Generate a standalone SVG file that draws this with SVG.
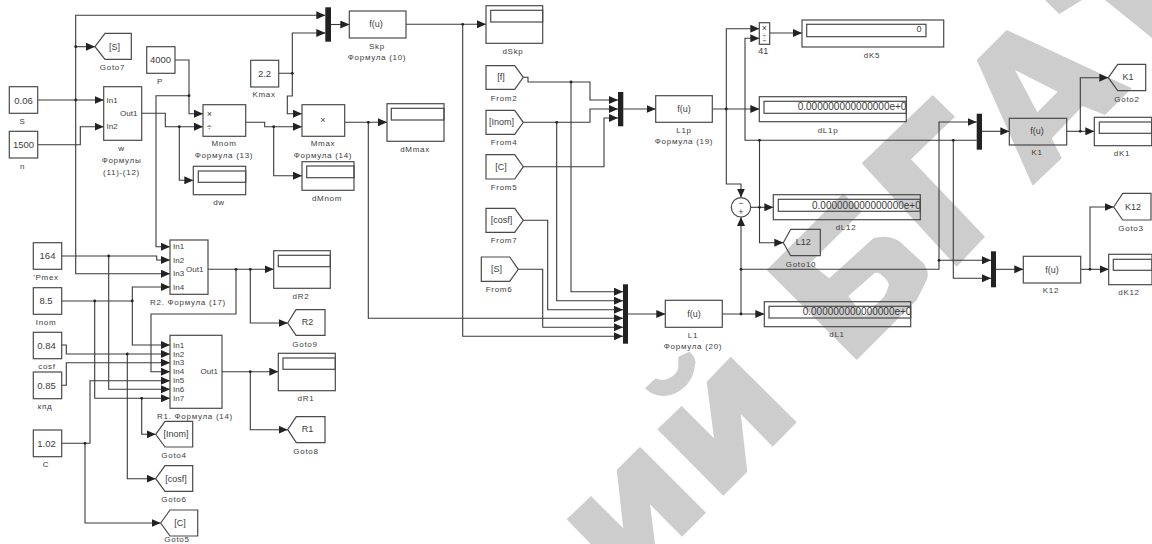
<svg xmlns="http://www.w3.org/2000/svg" width="1152" height="544" viewBox="0 0 1152 544">
<style>
.wm{fill:#cdcdcd;fill-rule:evenodd}
rect,polygon.b,circle.s{fill:none;stroke:#4a4a4a;stroke-width:1.2}
rect.m{fill:#222;stroke:none}
text{font-family:"Liberation Sans",Arial,sans-serif;fill:#3c3c3c;text-anchor:middle;dominant-baseline:central}
.l{font-size:8px;letter-spacing:.7px}
.v{font-size:9.5px}
.p{font-size:8px;text-anchor:start}
.f{font-size:9px}
.d{font-size:10px;text-anchor:start}
.c path{fill:none;stroke:#3a3a3a;stroke-width:1.1}
.c path.a{marker-end:url(#arr)}
.c circle{fill:#222}
</style>
<defs>
<marker id="arr" markerUnits="userSpaceOnUse" markerWidth="9" markerHeight="8" refX="9" refY="4" orient="auto"><path d="M0,0 L9,4 L0,8z" fill="#222"/></marker>
<clipPath id="c1"><rect x="764" y="101" width="142.3" height="13"/></clipPath>
<clipPath id="c2"><rect x="778" y="199" width="142.3" height="13"/></clipPath>
<clipPath id="c3"><rect x="769" y="306" width="141.7" height="13"/></clipPath>
</defs>
<rect width="1152" height="544" style="fill:#fff;stroke:none"/>
<g id="watermark">
<polygon class="wm" points="1045,0 1059.3,14 1082,0"/>
<polygon class="wm" points="1105,0 1152,38 1152,0"/>
<path class="wm" d="M976.7,60 L1006.7,30 L1131.7,88.3 L1105,115 L1082.7,106 L1051.7,138.3 L1061.7,158.3 L1032.7,185.7Z M1015,70 L1057.7,91.7 L1037.3,112.3Z"/>
<polygon class="wm" points="861.7,163.3 932.7,95 955,116.7 911,159.3 985,236.7 956.7,266.7"/>
<path class="wm" d="M766.7,270 L843.3,193.3 L861.7,211.7 L810,263.3 L829.3,278.3 L873.3,238.3 Q888,234 900,241.7 L923.3,263.3 Q930,272 926.7,280 L916.7,300 L856.7,360Z M848.3,296 L875,272.7 Q880,272 885,278.3 Q890,283 888.3,286.7 Q887,292 884,296.7 L864,316.7Z"/>
<path class="wm" d="M678.3,356.7 L689.3,351.7 Q697,358 695,365 Q694,376 686.7,385 Q676,396 663.3,396 Q653,396 645,388.3 L655.7,378.3 Q661,381 666.7,379.3 Q676,376 678.3,368.3Z"/>
<polygon class="wm" points="706.7,381.7 730.7,356.7 796.7,422.3 772.7,446.7 740.7,414 747.3,471.7 723.3,495.7 657.3,429.3 681.7,406 714,438.3"/>
<polygon class="wm" points="616.7,470 640,446.7 706,512.7 682,536.7 650,504.3 655,544 590.7,544 566.7,519.3 591,496 623.3,528.3"/>
</g>
<g id="connectors" class="c">
<path class="a" d="M38,100H103.7"/>
<path class="a" d="M75.7,100V15.3H325.3"/>
<path class="a" d="M75.7,46.7H95"/>
<path class="a" d="M75.7,100V273.7H170"/>
<path class="a" d="M38,144.7H80.3V126.7H103.7"/>
<path class="a" d="M141.7,113.3H165.3V126.7H203"/>
<path class="a" d="M179.3,126.7V180.3H193.3"/>
<path class="a" d="M175,60H189V113.7H203"/>
<path class="a" d="M189,95.7H156V246.7H170"/>
<path class="a" d="M245.7,122.3H264.7V126.7H302"/>
<path class="a" d="M273.7,126.7V175.7H302"/>
<path class="a" d="M278.7,73.3H292.3V33H325.3"/>
<path class="a" d="M292.3,73.3V96H287.3V113.7H302"/>
<path class="a" d="M331,24.5H349.3"/>
<path class="a" d="M406,24.3H486"/>
<path class="a" d="M462.7,24.3V336.3H623"/>
<path class="a" d="M344.7,122.3H387"/>
<path class="a" d="M368.3,122.3V318.3H623"/>
<path class="a" d="M523.3,77.3H528V82H590V100H618"/>
<path class="a" d="M571,82V291.7H623"/>
<path class="a" d="M523.3,122.3H590V109H618"/>
<path class="a" d="M556.7,122.3V300.7H623"/>
<path class="a" d="M523.3,166.7H604V118H618"/>
<path class="a" d="M523.3,220.3H547.7V309.7H623"/>
<path class="a" d="M518.3,269.3H542.7V327.3H623"/>
<path class="a" d="M623.3,109H655.7"/>
<path class="a" d="M712.3,109H759.3"/>
<path class="a" d="M726.3,109V28.7H759.3"/>
<path class="a" d="M726.3,109V184H741V197.6"/>
<path class="a" d="M976.7,140.3H745V38.3H759.3"/>
<path class="a" d="M750.7,207.3H773.3"/>
<path class="a" d="M759.5,140.3V242.7H783.3"/>
<path class="a" d="M769.7,33H802"/>
<path class="a" d="M628,314H665.3"/>
<path class="a" d="M722.3,314H764.3"/>
<path class="a" d="M741,314V217"/>
<path class="a" d="M741,269.3H939V122H976.7"/>
<path class="a" d="M939,260.3H991"/>
<path class="a" d="M953.3,140.3V278.3H991"/>
<path class="a" d="M982,131.3H1009.3"/>
<path class="a" d="M1066.7,131.3H1094.3"/>
<path class="a" d="M1080.3,131.3V77.7H1108.3"/>
<path class="a" d="M996,269.3H1023.3"/>
<path class="a" d="M1080.7,269.3H1108.7"/>
<path class="a" d="M1090,269.3V207H1113.7"/>
<path class="a" d="M61.7,256H156.7V260H170"/>
<path class="a" d="M108.7,256V389.3H170"/>
<path class="a" d="M61.7,301H132.3V287H170"/>
<path class="a" d="M132.3,301V345H170"/>
<path class="a" d="M94.7,301V398.3H170"/>
<path class="a" d="M141.7,398.3V434.3H155.7"/>
<path class="a" d="M61.7,345H66.3V354H170"/>
<path class="a" d="M127.3,354V478.7H155.7"/>
<path class="a" d="M61.7,385.3H66.3V362.7H170"/>
<path class="a" d="M61.7,443.3H90V380.7H170"/>
<path class="a" d="M85,443.3V523H160.7"/>
<path class="a" d="M208,269.3H273.7"/>
<path class="a" d="M236,269.3V314H151V371.7H170"/>
<path class="a" d="M250.3,269.3V323H287.7"/>
<path class="a" d="M222,371.7H278.3"/>
<path class="a" d="M250.3,371.7V429.7H287.7"/>
<g>
<circle cx="75.7" cy="100" r="1.4"/><circle cx="75.7" cy="46.7" r="1.4"/><circle cx="179.3" cy="126.7" r="1.4"/><circle cx="189" cy="95.7" r="1.4"/><circle cx="273.7" cy="126.7" r="1.4"/><circle cx="292.3" cy="73.3" r="1.4"/><circle cx="462.7" cy="24.3" r="1.4"/><circle cx="368.3" cy="122.3" r="1.4"/><circle cx="571" cy="82" r="1.4"/><circle cx="556.7" cy="122.3" r="1.4"/><circle cx="726.3" cy="109" r="1.4"/><circle cx="759.5" cy="140.3" r="1.4"/><circle cx="759.5" cy="207.3" r="1.4"/><circle cx="953.3" cy="140.3" r="1.4"/><circle cx="741" cy="314" r="1.4"/><circle cx="741" cy="269.3" r="1.4"/><circle cx="939" cy="260.3" r="1.4"/><circle cx="1080.3" cy="131.3" r="1.4"/><circle cx="1090" cy="269.3" r="1.4"/><circle cx="108.7" cy="256" r="1.4"/><circle cx="132.3" cy="301" r="1.4"/><circle cx="94.7" cy="301" r="1.4"/><circle cx="141.7" cy="398.3" r="1.4"/><circle cx="127.3" cy="354" r="1.4"/><circle cx="85" cy="443.3" r="1.4"/><circle cx="236" cy="269.3" r="1.4"/><circle cx="250.3" cy="269.3" r="1.4"/><circle cx="250.3" cy="371.7" r="1.4"/>
</g>
</g>
<g id="S"><rect x="9.3" y="86.7" width="28.4" height="26.6"/><text class="v" x="23.5" y="100">0.06</text><text class="l" x="22.5" y="121">S</text></g>
<g id="n"><rect x="9.3" y="131.3" width="28.4" height="26.7"/><text class="v" x="23.5" y="144.5">1500</text><text class="l" x="22.5" y="166">n</text></g>
<g id="w"><rect x="103.7" y="86.7" width="38" height="53.6"/><text class="p" x="106.5" y="100">In1</text><text class="p" x="106.5" y="126.7">In2</text><text class="p" x="120" y="113.3">Out1</text><text class="l" x="121.5" y="148">w</text><text class="l" x="121.5" y="160">Формулы</text><text class="l" x="121.5" y="172">(11)-(12)</text></g>
<g id="Goto7"><polygon class="b" points="95,46.7 105,33.3 131.3,33.3 131.3,59.3 105,59.3"/><text class="f" x="114.5" y="46.5">[S]</text><text class="l" x="112.5" y="67">Goto7</text></g>
<g id="P"><rect x="146.7" y="46.7" width="28.3" height="26.6"/><text class="v" x="160.5" y="59.5">4000</text><text class="l" x="160" y="81">P</text></g>
<g id="Kmax"><rect x="250.7" y="60.3" width="28" height="26.7"/><text class="v" x="264.5" y="73">2.2</text><text class="l" x="264" y="94">Kmax</text></g>
<g id="Mnom"><rect x="203" y="104.7" width="42.7" height="31.6"/><text class="f" x="209.3" y="113.5">×</text><text class="f" x="209.3" y="126.7">÷</text><text class="l" x="224" y="143">Mnom</text><text class="l" x="224" y="155">Формула (13)</text></g>
<g id="Mmax"><rect x="302" y="104.7" width="42.7" height="31.6"/><text class="f" x="323" y="120">×</text><text class="l" x="323" y="143">Mmax</text><text class="l" x="323" y="155">Формула (14)</text></g>
<g id="dw"><rect x="193.3" y="166.3" width="52.4" height="28.4"/><rect x="198.3" y="171" width="47.4" height="11.3"/><text class="l" x="219" y="202">dw</text></g>
<g id="dMnom"><rect x="302" y="161.7" width="52" height="28.6"/><rect x="306.7" y="166" width="47.3" height="11.7"/><text class="l" x="327" y="198">dMnom</text></g>
<g id="Mux1"><rect class="m" x="325.3" y="7.3" width="5.7" height="34.4"/></g>
<g id="Skp"><rect x="349.3" y="11" width="56.7" height="27"/><text class="f" x="376" y="24">f(u)</text><text class="l" x="377" y="46">Skp</text><text class="l" x="377" y="57">Формула (10)</text></g>
<g id="dSkp"><rect x="486" y="5.7" width="56.7" height="37.6"/><rect x="490.7" y="10.3" width="52" height="11.7"/><text class="l" x="513" y="51">dSkp</text></g>
<g id="dMmax"><rect x="387" y="103.7" width="57" height="37.6"/><rect x="391.3" y="108.3" width="52.7" height="11.7"/><text class="l" x="415" y="149">dMmax</text></g>
<g id="From2"><polygon class="b" points="486,65.7 514.7,65.7 523.3,77.3 514.7,89.3 486,89.3"/><text class="f" x="501" y="77">[f]</text><text class="l" x="504" y="98">From2</text></g>
<g id="From4"><polygon class="b" points="486,110.3 514.7,110.3 523.3,122.3 514.7,134.3 486,134.3"/><text class="f" x="501.5" y="122">[Inom]</text><text class="l" x="504" y="142">From4</text></g>
<g id="From5"><polygon class="b" points="486,154.7 514.7,154.7 523.3,166.7 514.7,179 486,179"/><text class="f" x="501" y="166.5">[C]</text><text class="l" x="504" y="187">From5</text></g>
<g id="From7"><polygon class="b" points="486,208.3 514.7,208.3 523.3,220.3 514.7,232.3 486,232.3"/><text class="f" x="501.5" y="220">[cosf]</text><text class="l" x="504" y="240">From7</text></g>
<g id="From6"><polygon class="b" points="481.3,257 509.7,257 518.3,269.3 509.7,281.3 481.3,281.3"/><text class="f" x="496.5" y="269">[S]</text><text class="l" x="499" y="289">From6</text></g>
<g id="Mux2"><rect class="m" x="618" y="92" width="5.3" height="34.3"/></g>
<g id="L1p"><rect x="655.7" y="95.7" width="56.6" height="26.6"/><text class="f" x="684" y="109">f(u)</text><text class="l" x="684" y="130">L1p</text><text class="l" x="684" y="141">Формула (19)</text></g>
<g id="Mux3"><rect class="m" x="623" y="284.3" width="5" height="59.4"/></g>
<g id="L1"><rect x="665.3" y="300.3" width="57" height="27"/><text class="f" x="694" y="314">f(u)</text><text class="l" x="693" y="335">L1</text><text class="l" x="693" y="346">Формула (20)</text></g>
<g id="Sum"><circle class="s" cx="741" cy="207.3" r="9.7"/><text class="f" x="741" y="202.5">−</text><text class="f" x="741" y="212">+</text></g>
<g id="block41"><rect x="759.3" y="22.7" width="10.4" height="21.6"/><text class="f" x="764.5" y="27.5">×</text><text style="font-size:7px" x="764.5" y="35">÷</text><text style="font-size:7px" x="764.5" y="40">÷</text><text class="f" x="763.3" y="51">41</text></g>
<g id="dK5"><rect x="802" y="20" width="141.7" height="27"/><rect x="806.7" y="24.3" width="119.3" height="12.4"/><text class="f" x="919" y="28.5">0</text><text class="l" x="872" y="55">dK5</text></g>
<g id="dL1p"><rect x="759.3" y="96.7" width="147" height="25"/><rect x="764" y="101.3" width="142.3" height="12"/><text class="d" x="797.7" y="106" clip-path="url(#c1)">0.000000000000000e+0</text><text class="l" x="828" y="130">dL1p</text></g>
<g id="dL12"><rect x="773.3" y="194.7" width="147" height="25"/><rect x="778.3" y="199.3" width="142" height="12"/><text class="d" x="812" y="205" clip-path="url(#c2)">0.000000000000000e+0</text><text class="l" x="846" y="227">dL12</text></g>
<g id="dL1"><rect x="764.3" y="301.7" width="146.4" height="25"/><rect x="769" y="306.3" width="141.7" height="11.7"/><text class="d" x="802.7" y="311.5" clip-path="url(#c3)">0.000000000000000e+0</text><text class="l" x="837" y="334">dL1</text></g>
<g id="Goto10"><polygon class="b" points="783.3,242.7 790.7,229.3 820.3,229.3 820.3,255.7 790.7,255.7"/><text class="f" x="803.3" y="242">L12</text><text class="l" x="801" y="264">Goto10</text></g>
<g id="Mux4"><rect class="m" x="976.7" y="113.7" width="5.3" height="36"/></g>
<g id="K1"><rect x="1009.3" y="118.3" width="57.4" height="26.7"/><text class="f" x="1037" y="131">f(u)</text><text class="l" x="1037" y="152">K1</text></g>
<g id="Goto2"><polygon class="b" points="1108.3,77.7 1117.7,64.3 1145.7,64.3 1145.7,90.7 1117.7,90.7"/><text class="f" x="1128" y="77">K1</text><text class="l" x="1127" y="99">Goto2</text></g>
<g id="dK1"><rect x="1094.3" y="117.3" width="57.4" height="28.4"/><rect x="1099.3" y="122" width="52.4" height="11.3"/><text class="l" x="1122" y="153">dK1</text></g>
<g id="Mux5"><rect class="m" x="991" y="251.3" width="5" height="36"/></g>
<g id="K12"><rect x="1023.3" y="256.3" width="57.4" height="26.7"/><text class="f" x="1052" y="270">f(u)</text><text class="l" x="1051" y="290">K12</text></g>
<g id="Goto3"><polygon class="b" points="1113.7,207 1122.7,193.3 1151,193.3 1151,220 1122.7,220"/><text class="f" x="1133" y="206.5">K12</text><text class="l" x="1131" y="228">Goto3</text></g>
<g id="dK12"><rect x="1108.7" y="254.3" width="43.3" height="30.4"/><rect x="1113.3" y="259.3" width="38.7" height="11"/><text class="l" x="1129" y="292">dK12</text></g>
<g id="Pmex"><rect x="33.3" y="242.7" width="28.4" height="26.6"/><text class="v" x="47.5" y="255.5">164</text><text class="l" x="46" y="277">'Pmex</text></g>
<g id="Inom"><rect x="33.3" y="287.7" width="28.4" height="26.6"/><text class="v" x="46" y="300">8.5</text><text class="l" x="46" y="322">Inom</text></g>
<g id="cosf"><rect x="33.3" y="332.3" width="28.4" height="26.4"/><text class="v" x="46.5" y="345">0.84</text><text class="l" x="47" y="366">cosf</text></g>
<g id="kpd"><rect x="33.3" y="372" width="28.4" height="26.7"/><text class="v" x="46.5" y="385">0.85</text><text class="l" x="45" y="406">кпд</text></g>
<g id="C"><rect x="33.3" y="430" width="28.4" height="26.7"/><text class="v" x="46.5" y="443">1.02</text><text class="l" x="46" y="464">C</text></g>
<g id="R2"><rect x="170" y="240" width="38" height="54.3"/><text class="p" x="173" y="246.7">In1</text><text class="p" x="173" y="260">In2</text><text class="p" x="173" y="273.7">In3</text><text class="p" x="173" y="287">In4</text><text class="p" x="186" y="269">Out1</text><text class="l" x="188" y="302">R2. Формула (17)</text></g>
<g id="R1"><rect x="170" y="335.3" width="52" height="73"/><text class="p" x="173" y="345">In1</text><text class="p" x="173" y="354">In2</text><text class="p" x="173" y="362.7">In3</text><text class="p" x="173" y="371.7">In4</text><text class="p" x="173" y="380.7">In5</text><text class="p" x="173" y="389.3">In6</text><text class="p" x="173" y="398.3">In7</text><text class="p" x="200.5" y="371.5">Out1</text><text class="l" x="195" y="416">R1. Формула (14)</text></g>
<g id="dR2"><rect x="273.7" y="250.7" width="56.6" height="37.6"/><rect x="278.3" y="255.3" width="52" height="11.4"/><text class="l" x="301" y="296">dR2</text></g>
<g id="Goto9"><polygon class="b" points="287.7,323 296,309.7 325,309.7 325,335.3 296,335.3"/><text class="f" x="307.5" y="322">R2</text><text class="l" x="305" y="344">Goto9</text></g>
<g id="dR1"><rect x="278.3" y="353.3" width="57" height="37.4"/><rect x="283" y="358" width="52.3" height="11.3"/><text class="l" x="306" y="398">dR1</text></g>
<g id="Goto8"><polygon class="b" points="287.7,429.7 296.3,416.7 325,416.7 325,442.7 296.3,442.7"/><text class="f" x="307.5" y="429">R1</text><text class="l" x="306" y="451">Goto8</text></g>
<g id="Goto4"><polygon class="b" points="155.7,434.3 165,421.3 192.7,421.3 192.7,447 165,447"/><text class="f" x="176" y="434">[Inom]</text><text class="l" x="174" y="455">Goto4</text></g>
<g id="Goto6"><polygon class="b" points="155.7,478.7 165,465.7 192.7,465.7 192.7,491.3 165,491.3"/><text class="f" x="176" y="478.5">[cosf]</text><text class="l" x="174" y="499.5">Goto6</text></g>
<g id="Goto5"><polygon class="b" points="160.7,523 170,510 197.7,510 197.7,536 170,536"/><text class="f" x="180" y="523">[C]</text><text class="l" x="177" y="539.5">Goto5</text></g>
</svg>
